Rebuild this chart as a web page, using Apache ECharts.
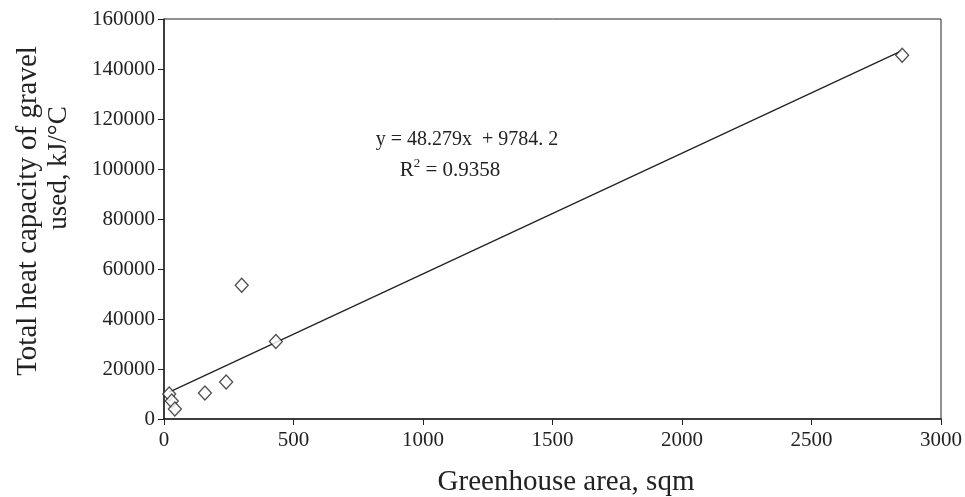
<!DOCTYPE html>
<html>
<head>
<meta charset="utf-8">
<script src="https://cdn.jsdelivr.net/npm/echarts@6/dist/echarts.min.js"></script>
<style>
  html, body { margin: 0; padding: 0; background: #fff; }
  #chart { width: 965px; height: 497px; }
</style>
</head>
<body>
<div id="chart"></div>
<script>
// measured points
const areaSqm = [20, 30, 42, 158, 240, 300, 432, 2850];
const heatCap = [10000, 7200, 4000, 10400, 14800, 53500, 31000, 145500];

// linear trendline as printed on the chart
const slope = 48.279;
const intercept = 9784.2;
const trendX = [20, 2850];

const xTicks = [0, 500, 1000, 1500, 2000, 2500, 3000];
const yTicks = [0, 20000, 40000, 60000, 80000, 100000, 120000, 140000, 160000];

const points = areaSqm.map((x, i) => [x, heatCap[i]]);
const trend = trendX.map(x => [x, slope * x + intercept]);

const font = 'Liberation Serif, Times New Roman, serif';

const chart = echarts.init(document.getElementById('chart'));
chart.setOption({
    animation: false,
    backgroundColor: '#fff',
    grid: { left: 164, right: 24, top: 19, bottom: 78, show: true, borderColor: '#222', borderWidth: 1 },
    xAxis: {
        type: 'value',
        min: xTicks[0],
        max: xTicks[xTicks.length - 1],
        interval: 500,
        axisLine: { show: true, lineStyle: { color: '#222', width: 1.5 } },
        axisTick: { show: true, length: 6, lineStyle: { color: '#222' } },
        axisLabel: { color: '#222', fontFamily: font, fontSize: 21, margin: 11, formatter: v => String(v) },
        splitLine: { show: false }
    },
    yAxis: {
        type: 'value',
        min: yTicks[0],
        max: yTicks[yTicks.length - 1],
        interval: 20000,
        axisLine: { show: true, lineStyle: { color: '#222', width: 1.5 } },
        axisTick: { show: true, length: 6, lineStyle: { color: '#222' } },
        axisLabel: { color: '#222', fontFamily: font, fontSize: 21, margin: 9, formatter: v => String(v) },
        splitLine: { show: false }
    },
    series: [
        {
            type: 'line',
            data: trend,
            symbol: 'none',
            lineStyle: { color: '#222', width: 1.3 },
            z: 1
        },
        {
            type: 'scatter',
            data: points,
            symbol: 'diamond',
            symbolSize: [13, 14],
            itemStyle: { color: '#fff', borderColor: '#222', borderWidth: 1.3 },
            z: 2
        }
    ],
    graphic: [
        {
            type: 'text',
            x: 28, y: 211,
            rotation: Math.PI / 2,
            style: {
                text: 'Total heat capacity of gravel',
                font: '29px ' + font,
                fill: '#222',
                align: 'center',
                verticalAlign: 'middle'
            }
        },
        {
            type: 'text',
            x: 59, y: 168,
            rotation: Math.PI / 2,
            style: {
                text: 'used, kJ/°C',
                font: '27px ' + font,
                fill: '#222',
                align: 'center',
                verticalAlign: 'middle'
            }
        },
        {
            type: 'text',
            x: 566, y: 482,
            style: {
                text: 'Greenhouse area, sqm',
                font: '29px ' + font,
                fill: '#222',
                align: 'center',
                verticalAlign: 'middle'
            }
        },
        {
            type: 'text',
            x: 467, y: 140,
            style: {
                text: 'y = 48.279x  + 9784. 2',
                font: '20px ' + font,
                fill: '#222',
                align: 'center',
                verticalAlign: 'middle'
            }
        },
        {
            type: 'text',
            x: 450, y: 170,
            style: {
                text: 'R{s|2} = 0.9358',
                font: '21px ' + font,
                fill: '#222',
                align: 'center',
                verticalAlign: 'middle',
                rich: { s: { fontSize: 13, fontFamily: font, verticalAlign: 'top', padding: [0, 0, 12, 0] } }
            }
        }
    ]
});
</script>
</body>
</html>
